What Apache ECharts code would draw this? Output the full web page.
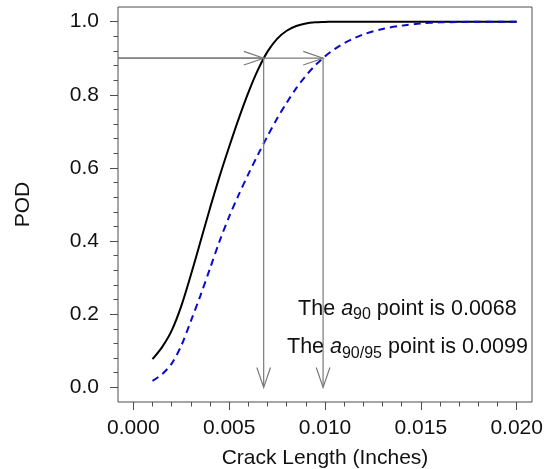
<!DOCTYPE html>
<html>
<head>
<meta charset="utf-8">
<script src="https://cdn.jsdelivr.net/npm/echarts@6/dist/echarts.min.js"></script>
<style>
html,body{margin:0;padding:0;background:#fff;}
#chart{width:545px;height:469px;}
</style>
</head>
<body>
<div id="chart"></div>
<script>
// ---- data ----
var crackLength = [0.001,0.0015,0.002,0.0025,0.003,0.0035,0.004,0.0045,0.005,0.0055,0.006,0.0065,0.007,0.0075,0.008,0.0085,0.009,0.0095,0.010,0.0105,0.011,0.0115,0.012,0.013,0.014,0.015,0.016,0.017,0.018,0.019,0.020];
var podFit = [0.077,0.110,0.155,0.222,0.307,0.398,0.490,0.577,0.658,0.735,0.806,0.868,0.918,0.953,0.975,0.988,0.995,0.998,0.999,1.0,1.0,1.0,1.0,1.0,1.0,1.0,1.0,1.0,1.0,1.0,1.0];
var podLower = [0.018,0.036,0.065,0.114,0.181,0.251,0.325,0.400,0.467,0.527,0.583,0.636,0.687,0.735,0.778,0.818,0.852,0.881,0.905,0.925,0.941,0.954,0.965,0.980,0.989,0.995,0.998,0.999,1.0,1.0,1.0];
var a90 = 0.0068;
var a9095 = 0.0099;
var podLevel = 0.9;
var xMajorTicks = [0,0.005,0.010,0.015,0.020];
var xMinorTicks = [0.001,0.002,0.003,0.004,0.006,0.007,0.008,0.009,0.011,0.012,0.013,0.014,0.016,0.017,0.018,0.019];
var yMajorTicks = [0,0.2,0.4,0.6,0.8,1.0];
var yMinorTicks = [0.04,0.08,0.12,0.16,0.24,0.28,0.32,0.36,0.44,0.48,0.52,0.56,0.64,0.68,0.72,0.76,0.84,0.88,0.92,0.96];
var annotations = [
  {x: 0.0143, y: 0.215, sub: '90',    value: '0.0068'},
  {x: 0.0143, y: 0.110, sub: '90/95', value: '0.0099'}
];

// ---- chart ----
var FONT = "'Liberation Sans', Arial, sans-serif";
var xRange = [-0.0008, 0.0208];
var yRange = [-0.04, 1.04];

function zip(xs, ys){ return xs.map(function(x,i){ return [x, ys[i]]; }); }

var arrows = [
  [xRange[0], podLevel, a90, podLevel],
  [xRange[0], podLevel, a9095, podLevel],
  [a90, podLevel, a90, 0],
  [a9095, podLevel, a9095, 0]
];

var chart = echarts.init(document.getElementById('chart'), null, {renderer:'canvas'});
var labelStyle = {fontFamily: FONT, fontSize: 21, color: '#111'};
var tickColor = '#4d4d4d';

chart.setOption({
  animation: false,
  backgroundColor: '#fff',
  grid: {left: 118, right: 13, top: 7, bottom: 67, show: true, borderColor: tickColor, borderWidth: 1, outerBoundsMode: 'none', containLabel: false},
  xAxis: [{
    type: 'value', min: xRange[0], max: xRange[1], position: 'bottom',
    name: 'Crack Length (Inches)', nameLocation: 'middle', nameGap: 46,
    nameTextStyle: {fontFamily: FONT, fontSize: 21, color: '#111'},
    axisLine: {show: false, onZero: false},
    splitLine: {show: false},
    axisTick: {show: true, length: 8, customValues: xMajorTicks, lineStyle: {color: tickColor, width: 1}},
    axisLabel: Object.assign({margin: 16, customValues: xMajorTicks, formatter: function(v){ return v.toFixed(3); }}, labelStyle)
  },{
    type: 'value', min: xRange[0], max: xRange[1], position: 'bottom',
    axisLine: {show: false, onZero: false}, splitLine: {show: false},
    axisTick: {show: true, length: 4.5, customValues: xMinorTicks, lineStyle: {color: tickColor, width: 1}},
    axisLabel: {show: false}
  }],
  yAxis: [{
    type: 'value', min: yRange[0], max: yRange[1], position: 'left',
    name: 'POD', nameLocation: 'middle', nameGap: 84,
    nameTextStyle: {fontFamily: FONT, fontSize: 21, color: '#111'},
    axisLine: {show: false, onZero: false}, splitLine: {show: false},
    axisTick: {show: true, length: 8, customValues: yMajorTicks, lineStyle: {color: tickColor, width: 1}},
    axisLabel: Object.assign({margin: 19, customValues: yMajorTicks, formatter: function(v){ return v.toFixed(1); }}, labelStyle)
  },{
    type: 'value', min: yRange[0], max: yRange[1], position: 'left',
    axisLine: {show: false, onZero: false}, splitLine: {show: false},
    axisTick: {show: true, length: 4.5, customValues: yMinorTicks, lineStyle: {color: tickColor, width: 1}},
    axisLabel: {show: false}
  }],
  series: [{
    type: 'line', name: 'POD fit', xAxisIndex: 0, yAxisIndex: 0,
    data: zip(crackLength, podFit), showSymbol: false, smooth: 0.3,
    lineStyle: {color: '#000', width: 2}, z: 3
  },{
    type: 'line', name: 'POD 95% lower bound', xAxisIndex: 0, yAxisIndex: 0,
    data: zip(crackLength, podLower), showSymbol: false, smooth: 0.3,
    lineStyle: {color: '#0a0acc', width: 2, type: [7,5]}, z: 3
  },{
    type: 'custom', name: 'arrows', xAxisIndex: 0, yAxisIndex: 0, z: 4,
    data: arrows,
    encode: {x: [0,2], y: [1,3]},
    renderItem: function(params, api){
      var p1 = api.coord([api.value(0), api.value(1)]);
      var p2 = api.coord([api.value(2), api.value(3)]);
      var ang = Math.atan2(p2[1]-p1[1], p2[0]-p1[0]);
      var L = 21, A = 19*Math.PI/180;
      var h1 = [p2[0]-L*Math.cos(ang-A), p2[1]-L*Math.sin(ang-A)];
      var h2 = [p2[0]-L*Math.cos(ang+A), p2[1]-L*Math.sin(ang+A)];
      var st = {stroke: '#7a7a7a', lineWidth: 1.2, fill: null};
      return {type: 'group', children: [
        {type: 'line', shape: {x1: p1[0], y1: p1[1], x2: p2[0], y2: p2[1]}, style: st},
        {type: 'polyline', shape: {points: [h1, p2, h2]}, style: st}
      ]};
    }
  },{
    type: 'custom', name: 'annotations', xAxisIndex: 0, yAxisIndex: 0, z: 5,
    data: annotations.map(function(a){ return [a.x, a.y]; }),
    renderItem: function(params, api){
      var a = annotations[params.dataIndex];
      var p = api.coord([api.value(0), api.value(1)]);
      return {type: 'text', x: p[0], y: p[1], style: {
        text: '{n|The }{i|a}{s|' + a.sub + '}{n| point is ' + a.value + '}',
        align: 'center', verticalAlign: 'middle',
        rich: {
          n: {fontFamily: FONT, fontSize: 21.5, lineHeight: 28, fill: '#111', verticalAlign: 'middle'},
          i: {fontFamily: FONT, fontSize: 21.5, fontStyle: 'italic', lineHeight: 28, fill: '#111', verticalAlign: 'middle'},
          s: {fontFamily: FONT, fontSize: 16, lineHeight: 16, fill: '#111', verticalAlign: 'bottom'}
        }
      }};
    }
  }]
});
</script>
</body>
</html>
